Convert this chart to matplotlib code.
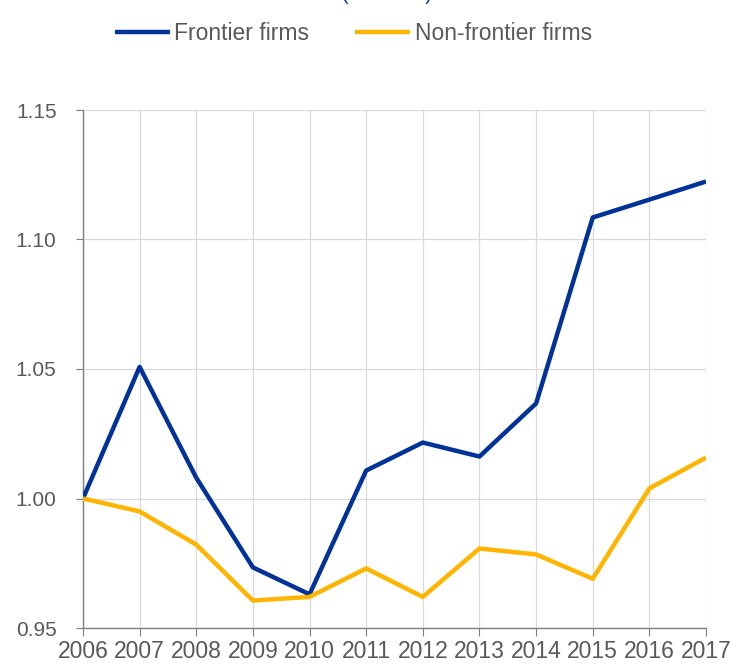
import matplotlib
matplotlib.use("Agg")
import matplotlib.pyplot as plt

years = [2006, 2007, 2008, 2009, 2010, 2011, 2012, 2013, 2014, 2015, 2016, 2017]
frontier = [1.000, 1.0508, 1.008, 0.9734, 0.963, 1.0108, 1.0216, 1.0162, 1.0367, 1.1085, 1.1154, 1.1224]
non_frontier = [1.000, 0.995, 0.9822, 0.9606, 0.962, 0.973, 0.962, 0.9807, 0.9784, 0.969, 1.0039, 1.0158]
yticks = [0.95, 1.00, 1.05, 1.10, 1.15]

plt.rcParams['font.family'] = ['Liberation Sans', 'DejaVu Sans']
grey = '#595959'

fig = plt.figure(figsize=(7.3, 6.64), dpi=100)
ax = fig.add_axes([83/730, 1 - 628/664, 623/730, 518/664])

ax.plot(years, frontier, color='#003299', lw=3.2, label='Frontier firms', solid_capstyle='butt', zorder=3)
ax.plot(years, non_frontier, color='#FFB400', lw=3.2, label='Non-frontier firms', solid_capstyle='butt', zorder=3)

ax.set_xlim(years[0], years[-1])
ax.set_ylim(0.95, 1.15)
ax.set_xticks(years)
ax.set_xticklabels([str(y) for y in years], fontsize=16.5, color=grey)
ax.set_yticks(yticks)
ax.set_yticklabels([f'{v:.2f}' for v in yticks], fontsize=15, color=grey)

ax.grid(True, color='#d9d9d9', lw=0.9, zorder=0)
for s in ['top', 'right']:
    ax.spines[s].set_visible(False)
for s in ['left', 'bottom']:
    ax.spines[s].set_color('#7f7f7f')
    ax.spines[s].set_linewidth(1.0)
ax.tick_params(axis='x', length=6, color='#7f7f7f', pad=3)
ax.tick_params(axis='y', length=5, color='#7f7f7f', pad=14)

leg = fig.legend(loc='center', bbox_to_anchor=(0.484, 1 - 34/664), ncol=2, frameon=False,
                 fontsize=16.5, handlelength=2.4, handletextpad=0.2, columnspacing=2.0)
for t in leg.get_texts():
    t.set_color(grey)

fig.text(0.53, 1.0, '(2006 = 1)', color='#003299', fontsize=14, ha='center', va='baseline')

fig.savefig('out.png', dpi=100)
